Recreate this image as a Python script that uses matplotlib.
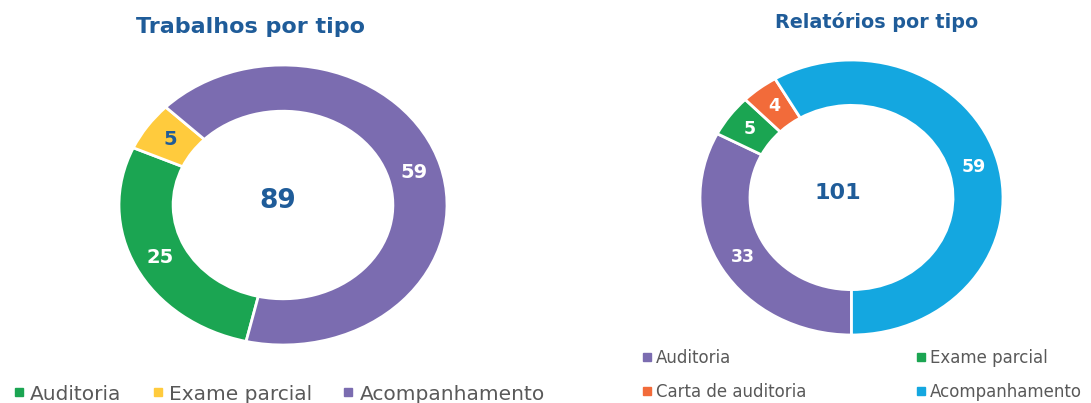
"""
Two donut charts: trabalhos por tipo and relatorios por tipo.
"""
from matplotlib import pyplot as plt
from matplotlib.lines import Line2D

TRAB_LABELS = ["Auditoria", "Exame parcial", "Acompanhamento"]
TRAB_VALUES = [25, 5, 59]
TRAB_COLORS = ["#1BA552", "#FFCB3D", "#7B6CB0"]

REL_LABELS = ["Auditoria", "Exame parcial", "Carta de auditoria", "Acompanhamento"]
REL_VALUES = [33, 5, 4, 59]
REL_COLORS = ["#7B6CB0", "#1BA552", "#F26B3A", "#14A7E0"]

TITLE_BLUE = "#1F5C99"
GRAY = "#595959"

W, H = 1091, 403


def donut(rect, values, colors, startangle, label_colors, total_size,
          label_size, total_dx):
    """Draw one donut in a pixel rectangle (left, top, width, height)."""
    left, top, width, height = rect
    ax = fig.add_axes([left / W, (H - top - height) / H, width / W, height / H])
    total = sum(values)
    wedges, _, autotexts = ax.pie(
        values, colors=colors, startangle=startangle, counterclock=False,
        radius=1, autopct=lambda p: "%d" % round(p * total / 100),
        pctdistance=0.835,
        wedgeprops=dict(width=0.33, edgecolor="white", linewidth=2))
    for txt, col in zip(autotexts, label_colors):
        txt.set_color(col)
        txt.set_fontsize(label_size)
        txt.set_fontweight("bold")
    ax.text(total_dx, 0.03, str(total), ha="center", va="center",
            fontsize=total_size, fontweight="bold", color=TITLE_BLUE)
    ax.set_aspect("auto")
    ax.set_xlim(-1, 1)
    ax.set_ylim(-1, 1)
    ax.axis("off")
    return wedges


def handles(labels, colors):
    return [Line2D([], [], linestyle="none", marker="s", markersize=5.5,
                   markerfacecolor=c, markeredgecolor=c, label=l)
            for l, c in zip(labels, colors)]


fig = plt.figure(figsize=(W / 100, H / 100), dpi=100)

donut((119, 65, 328, 280), TRAB_VALUES, TRAB_COLORS, -103,
      ["white", TITLE_BLUE, "white"], 19, 14, -0.03)
donut((700, 60, 303, 275), REL_VALUES, REL_COLORS, -90,
      ["white", "white", "white", "white"], 16, 12.5, -0.09)

fig.text(251 / W, 1 - 27 / H, "Trabalhos por tipo", ha="center", va="center",
         fontsize=16, fontweight="bold", color=TITLE_BLUE)
fig.text(877 / W, 1 - 22 / H, "Relatórios por tipo", ha="center", va="center",
         fontsize=13.8, fontweight="bold", color=TITLE_BLUE)

fig.legend(handles=handles(TRAB_LABELS, TRAB_COLORS), ncol=3,
           loc="center left", bbox_to_anchor=(-4 / W, 1 - 394 / H),
           frameon=False, fontsize=14.5, labelcolor=GRAY,
           handlelength=0.5, handletextpad=0.3, columnspacing=1.55)
# legend fills column by column, reorder so rows read left to right
order = [0, 2, 1, 3]
fig.legend(handles=[handles(REL_LABELS, REL_COLORS)[i] for i in order],
           ncol=2, loc="center left", bbox_to_anchor=(628 / W, 1 - 375 / H),
           frameon=False, fontsize=12, labelcolor=GRAY,
           handlelength=0.5, handletextpad=0.3, columnspacing=6.6,
           labelspacing=0.95)

fig.savefig("out.png", dpi=100)
